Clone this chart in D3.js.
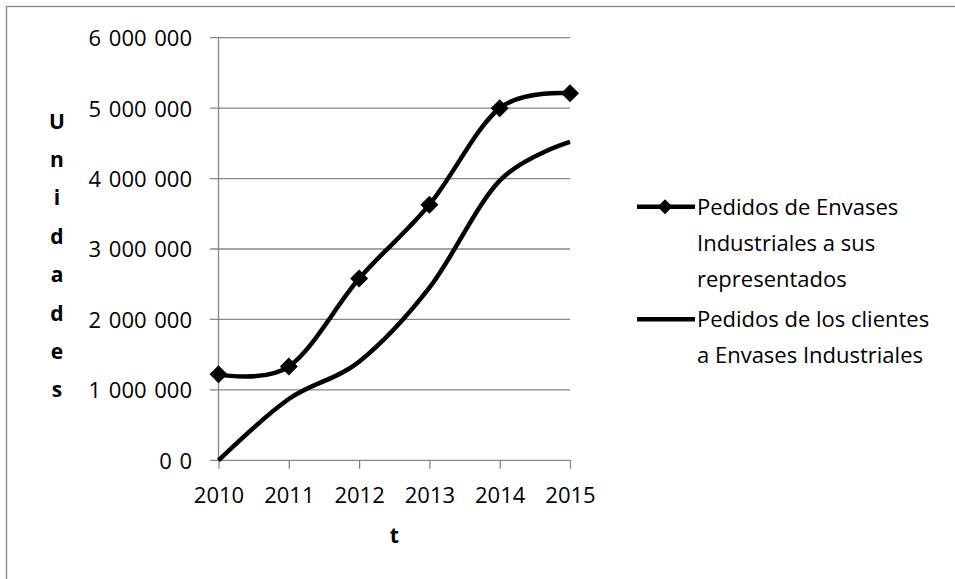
<!DOCTYPE html>
<html>
<head>
<meta charset="utf-8">
<script src="https://cdn.jsdelivr.net/npm/d3@7"></script>
<style>
  html, body { margin: 0; padding: 0; background: #fff; }
  svg { display: block; font-family: "Open Sans", sans-serif; }
</style>
</head>
<body>
<svg id="chart" width="955" height="579"></svg>
<script>
// Years on the horizontal axis
const years = ["2010", "2011", "2012", "2013", "2014", "2015"];
// Orders placed by Envases Industriales with the firms it represents
const pedidosRepresentados = [1220000, 1330000, 2580000, 3630000, 5000000, 5210000];
// Orders received from customers
const pedidosClientes = [0, 870000, 1400000, 2450000, 3970000, 4520000];
// Vertical axis ticks and their labels
const yTicks = [0, 1000000, 2000000, 3000000, 4000000, 5000000, 6000000];
const yTickLabels = ["0 0", "1 000 000", "2 000 000", "3 000 000", "4 000 000", "5 000 000", "6 000 000"];
const seriesNames = [
  ["Pedidos de Envases", "Industriales a sus", "representados"],
  ["Pedidos de los clientes", "a Envases Industriales"]
];
const yTitle = "Unidades";
const xTitle = "t";

const svg = d3.select("#chart");
const gridColor = "#878787";
const plotLeft = 218.5, plotRight = 570, plotTop = 37.7, plotBottom = 460.3;

const x = d3.scalePoint().domain(years).range([plotLeft, plotRight]);
const y = d3.scaleLinear().domain([0, 6000000]).range([plotBottom, plotTop]);

// outer frame of the chart area
svg.append("rect")
  .attr("x", 6.5).attr("y", 6.5).attr("width", 1200).attr("height", 1200)
  .attr("fill", "none").attr("stroke", gridColor).attr("stroke-width", 1.3);

// horizontal gridlines (they start a little left of the axis, acting as ticks)
svg.append("g").selectAll("line").data(yTicks).join("line")
  .attr("x1", plotLeft - 8.5).attr("x2", plotRight)
  .attr("y1", d => y(d)).attr("y2", d => y(d))
  .attr("stroke", gridColor).attr("stroke-width", 1.3);

// vertical axis line
svg.append("line")
  .attr("x1", plotLeft).attr("x2", plotLeft).attr("y1", plotTop).attr("y2", plotBottom)
  .attr("stroke", gridColor).attr("stroke-width", 1.3);

// y axis labels
const yAxis = svg.append("g")
  .attr("transform", `translate(${plotLeft},0)`)
  .call(d3.axisLeft(y).tickValues(yTicks).tickFormat((d, i) => yTickLabels[i]).tickSize(0));
yAxis.select(".domain").remove();
yAxis.selectAll("text")
  .attr("x", -26.5).attr("dy", "0.36em")
  .attr("font-family", "Open Sans").attr("font-size", 22).attr("fill", "#000")
  .style("word-spacing", "2px");

// x axis ticks and labels
const xAxis = svg.append("g")
  .attr("transform", `translate(0,${plotBottom})`)
  .call(d3.axisBottom(x).tickSize(8.5));
xAxis.select(".domain").remove();
xAxis.selectAll("line").attr("stroke", gridColor).attr("stroke-width", 1.3);
xAxis.selectAll("text")
  .attr("y", 43).attr("dy", 0)
  .attr("font-family", "Open Sans").attr("font-size", 22).attr("fill", "#000");

// axis titles
svg.append("g").selectAll("text").data(yTitle.split("")).join("text")
  .attr("x", 57).attr("y", (d, i) => 128.5 + i * 38.4)
  .attr("text-anchor", "middle").attr("font-weight", "bold").attr("font-size", 21)
  .text(d => d);
svg.append("text")
  .attr("x", (plotLeft + plotRight) / 2).attr("y", 543)
  .attr("text-anchor", "middle").attr("font-weight", "bold").attr("font-size", 21)
  .text(xTitle);

// series lines (smoothed)
const line = d3.line()
  .x((d, i) => x(years[i]))
  .y(d => y(d))
  .curve(d3.curveCardinal.tension(0));

svg.append("path").datum(pedidosClientes)
  .attr("d", line).attr("fill", "none").attr("stroke", "#000").attr("stroke-width", 4.5);
svg.append("path").datum(pedidosRepresentados)
  .attr("d", line).attr("fill", "none").attr("stroke", "#000").attr("stroke-width", 4.5);

const diamond = r => `M0,${-r}L${r},0L0,${r}L${-r},0Z`;
svg.append("g").selectAll("path").data(pedidosRepresentados).join("path")
  .attr("transform", (d, i) => `translate(${x(years[i])},${y(d)})`)
  .attr("d", diamond(9)).attr("fill", "#000");

// legend
const legendRows = [206.7, 319.3];
const legend = svg.append("g");
legendRows.forEach((ly, k) => {
  legend.append("line")
    .attr("x1", 637).attr("x2", 695).attr("y1", ly).attr("y2", ly)
    .attr("stroke", "#000").attr("stroke-width", 4.5);
  if (k === 0) {
    legend.append("path").attr("transform", `translate(665,${ly})`)
      .attr("d", diamond(7.5)).attr("fill", "#000");
  }
  const t = legend.append("text").attr("font-size", 22).attr("fill", "#000");
  seriesNames[k].forEach((s, j) => {
    t.append("tspan").attr("x", 697).attr("y", ly + 8 + j * 36).text(s);
  });
});
</script>
</body>
</html>
